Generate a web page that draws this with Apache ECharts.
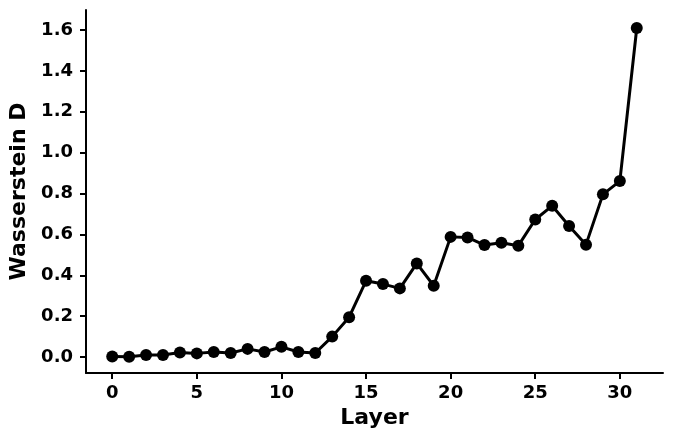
<!DOCTYPE html>
<html>
<head>
<meta charset="utf-8">
<script src="https://cdn.jsdelivr.net/npm/echarts@6/dist/echarts.min.js"></script>
<style>html,body{margin:0;padding:0;background:#fff;}#c{width:675px;height:444px;}</style>
</head>
<body>
<div id="c"></div>
<script>
const layers = [0,1,2,3,4,5,6,7,8,9,10,11,12,13,14,15,16,17,18,19,20,21,22,23,24,25,26,27,28,29,30,31];
const wasserstein = [0.003,0.002,0.01,0.01,0.022,0.018,0.025,0.02,0.04,0.025,0.05,0.025,0.02,0.10,0.195,0.373,0.357,0.336,0.458,0.349,0.588,0.585,0.548,0.559,0.545,0.673,0.740,0.641,0.550,0.796,0.861,1.610];
const xTicks = [0,5,10,15,20,25,30];
const yTicks = [0,0.2,0.4,0.6,0.8,1.0,1.2,1.4,1.6];

const font = 'DejaVu Sans';
const chart = echarts.init(document.getElementById('c'), null, {renderer:'canvas'});
chart.setOption({
  animation: false,
  grid: {left: 86, right: 12, top: 10, bottom: 71, containLabel: false, outerBoundsMode: 'none'},
  xAxis: {
    type: 'value', min: -1.55, max: 32.55,
    name: 'Layer', nameLocation: 'middle', nameGap: 34,
    nameTextStyle: {fontFamily: font, fontWeight: 'bold', fontSize: 22, color: '#000'},
    axisLine: {show: true, onZero: false, lineStyle: {color: '#000', width: 2}},
    axisTick: {show: true, length: 6, lineStyle: {color: '#000', width: 2}, customValues: xTicks},
    axisLabel: {customValues: xTicks, fontFamily: font, fontWeight: 'bold', fontSize: 18, color: '#000', margin: 11},
    splitLine: {show: false}
  },
  yAxis: {
    type: 'value', min: -0.078, max: 1.698,
    name: 'Wasserstein D', nameLocation: 'middle', nameGap: 52,
    nameTextStyle: {fontFamily: font, fontWeight: 'bold', fontSize: 22, color: '#000'},
    axisLine: {show: true, onZero: false, lineStyle: {color: '#000', width: 2}},
    axisTick: {show: true, length: 6, lineStyle: {color: '#000', width: 2}, customValues: yTicks},
    axisLabel: {customValues: yTicks, fontFamily: font, fontWeight: 'bold', fontSize: 18, color: '#000', margin: 13,
      formatter: v => v.toFixed(1)},
    splitLine: {show: false}
  },
  series: [{
    type: 'line',
    data: layers.map((l, i) => [l, wasserstein[i]]),
    symbol: 'circle', symbolSize: 12,
    lineStyle: {color: '#000', width: 3},
    itemStyle: {color: '#000'},
    clip: false
  }]
});
</script>
</body>
</html>
